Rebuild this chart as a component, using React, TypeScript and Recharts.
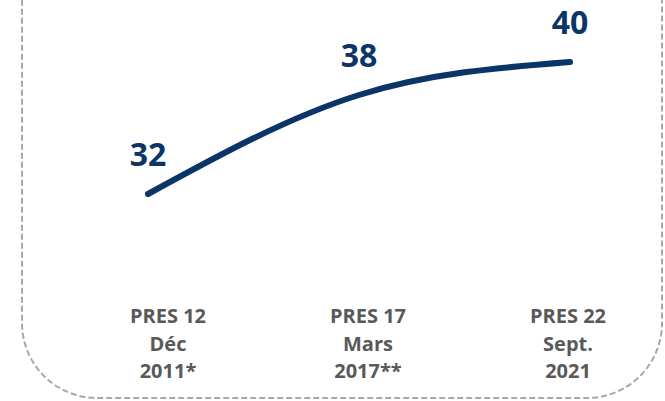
import React from "react";
import { LineChart, Line, XAxis, YAxis, LabelList } from "recharts";

const categories = ["PRES 12 Déc 2011*", "PRES 17 Mars 2017**", "PRES 22 Sept. 2021"];
const tickLines = [
  ["PRES 12", "Déc", "2011*"],
  ["PRES 17", "Mars", "2017**"],
  ["PRES 22", "Sept.", "2021"],
];
const values = [32, 38, 40];

const data = categories.map((c, i) => ({ cat: c, value: values[i] }));

const NAVY = "#0a3566";
const GRAY = "#595959";

const Tick = (props: any) => {
  const { x, y, payload } = props;
  const idx = categories.indexOf(payload.value);
  const lines = tickLines[idx] || [String(payload.value)];
  return (
    <text
      x={x}
      y={y}
      textAnchor="middle"
      fill={GRAY}
      fontFamily="'Open Sans', sans-serif"
      fontWeight={700}
      fontSize={20}
    >
      {lines.map((l, k) => (
        <tspan key={k} x={x} dy={k === 0 ? 66 : 27.5}>
          {l}
        </tspan>
      ))}
    </text>
  );
};

export default function App() {
  return (
    <div
      style={{
        position: "absolute",
        left: 0,
        top: 0,
        width: 665,
        height: 401,
        overflow: "hidden",
        background: "#ffffff",
      }}
    >
      <svg
        width={665}
        height={401}
        style={{ position: "absolute", left: 0, top: 0 }}
      >
        <rect
          x={22}
          y={-100}
          width={640}
          height={498}
          rx={75}
          ry={75}
          fill="none"
          stroke="#a8a8a8"
          strokeWidth={2}
          strokeDasharray="6 3"
        />
      </svg>
      <div style={{ position: "absolute", left: 0, top: 0 }}>
        <LineChart
          width={665}
          height={401}
          data={data}
          margin={{ top: 29, right: 0, bottom: 0, left: 0 }}
        >
          <XAxis
            xAxisId="a"
            dataKey="cat"
            scale="point"
            hide
            padding={{ left: 148, right: 95 }}
          />
          <XAxis
            xAxisId="b"
            dataKey="cat"
            scale="point"
            padding={{ left: 168, right: 97 }}
            axisLine={false}
            tickLine={false}
            tickSize={0}
            tickMargin={0}
            height={174}
            interval={0}
            tick={<Tick />}
          />
          <YAxis hide domain={[30, 42]} />
          <Line
            xAxisId="a"
            type="monotone"
            dataKey="value"
            stroke={NAVY}
            strokeWidth={6}
            strokeLinecap="round"
            dot={false}
            isAnimationActive={false}
          >
            <LabelList
              dataKey="value"
              position="top"
              offset={28}
              fill={NAVY}
              fontFamily="'Open Sans', sans-serif"
              fontWeight={700}
              fontSize={32}
            />
          </Line>
        </LineChart>
      </div>
    </div>
  );
}
